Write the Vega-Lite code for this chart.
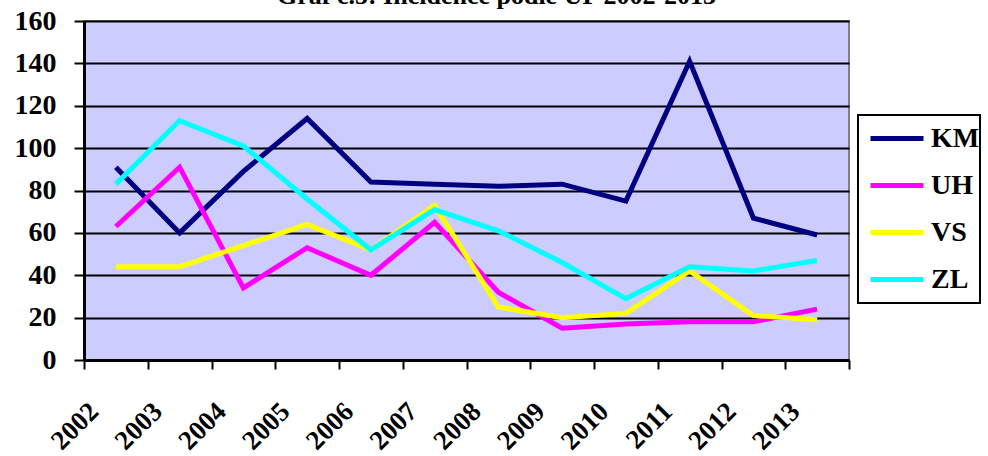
{
  "$schema": "https://vega.github.io/schema/vega-lite/v6.json",
  "autosize": {"type": "none"},
  "padding": {"left": 84, "top": 21, "right": 139, "bottom": 96},
  "width": 765,
  "height": 339,
  "background": "white",
  "title": {
    "text": "Graf č.5: Incidence podle UP 2002-2013",
    "font": "Times New Roman, Liberation Serif, serif",
    "fontSize": 26,
    "fontWeight": "bold",
    "color": "black",
    "anchor": "middle",
    "baseline": "alphabetic",
    "dx": 30,
    "offset": -23
  },
  "data": {
    "values": [
      {"rok": "2002", "okres": "KM", "hodnota": 91},
      {"rok": "2003", "okres": "KM", "hodnota": 60},
      {"rok": "2004", "okres": "KM", "hodnota": 89},
      {"rok": "2005", "okres": "KM", "hodnota": 114},
      {"rok": "2006", "okres": "KM", "hodnota": 84},
      {"rok": "2007", "okres": "KM", "hodnota": 83},
      {"rok": "2008", "okres": "KM", "hodnota": 82},
      {"rok": "2009", "okres": "KM", "hodnota": 83},
      {"rok": "2010", "okres": "KM", "hodnota": 75},
      {"rok": "2011", "okres": "KM", "hodnota": 141},
      {"rok": "2012", "okres": "KM", "hodnota": 67},
      {"rok": "2013", "okres": "KM", "hodnota": 59},
      {"rok": "2002", "okres": "UH", "hodnota": 63},
      {"rok": "2003", "okres": "UH", "hodnota": 91},
      {"rok": "2004", "okres": "UH", "hodnota": 34},
      {"rok": "2005", "okres": "UH", "hodnota": 53},
      {"rok": "2006", "okres": "UH", "hodnota": 40},
      {"rok": "2007", "okres": "UH", "hodnota": 65},
      {"rok": "2008", "okres": "UH", "hodnota": 32},
      {"rok": "2009", "okres": "UH", "hodnota": 15},
      {"rok": "2010", "okres": "UH", "hodnota": 17},
      {"rok": "2011", "okres": "UH", "hodnota": 18},
      {"rok": "2012", "okres": "UH", "hodnota": 18},
      {"rok": "2013", "okres": "UH", "hodnota": 24},
      {"rok": "2002", "okres": "VS", "hodnota": 44},
      {"rok": "2003", "okres": "VS", "hodnota": 44},
      {"rok": "2004", "okres": "VS", "hodnota": 54},
      {"rok": "2005", "okres": "VS", "hodnota": 64},
      {"rok": "2006", "okres": "VS", "hodnota": 52},
      {"rok": "2007", "okres": "VS", "hodnota": 73},
      {"rok": "2008", "okres": "VS", "hodnota": 25},
      {"rok": "2009", "okres": "VS", "hodnota": 20},
      {"rok": "2010", "okres": "VS", "hodnota": 22},
      {"rok": "2011", "okres": "VS", "hodnota": 42},
      {"rok": "2012", "okres": "VS", "hodnota": 21},
      {"rok": "2013", "okres": "VS", "hodnota": 19},
      {"rok": "2002", "okres": "ZL", "hodnota": 83},
      {"rok": "2003", "okres": "ZL", "hodnota": 113},
      {"rok": "2004", "okres": "ZL", "hodnota": 101},
      {"rok": "2005", "okres": "ZL", "hodnota": 76},
      {"rok": "2006", "okres": "ZL", "hodnota": 52},
      {"rok": "2007", "okres": "ZL", "hodnota": 71},
      {"rok": "2008", "okres": "ZL", "hodnota": 61},
      {"rok": "2009", "okres": "ZL", "hodnota": 46},
      {"rok": "2010", "okres": "ZL", "hodnota": 29},
      {"rok": "2011", "okres": "ZL", "hodnota": 44},
      {"rok": "2012", "okres": "ZL", "hodnota": 42},
      {"rok": "2013", "okres": "ZL", "hodnota": 47}
    ]
  },
  "mark": {"type": "line", "strokeWidth": 5, "strokeJoin": "miter", "strokeCap": "butt"},
  "encoding": {
    "x": {
      "field": "rok",
      "type": "ordinal",
      "scale": {"type": "band", "paddingInner": 0, "paddingOuter": 0},
      "axis": {
        "title": null,
        "tickBand": "extent",
        "grid": false,
        "domainColor": "black",
        "domainWidth": 3,
        "tickColor": "black",
        "tickWidth": 2,
        "tickSize": 9,
        "labelAngle": -45,
        "labelAlign": "right",
        "labelBaseline": "middle",
        "labelPadding": 38,
        "labelOffset": -22,
        "labelFont": "Times New Roman, Liberation Serif, serif",
        "labelFontSize": 27,
        "labelFontWeight": "bold",
        "labelColor": "black"
      }
    },
    "y": {
      "field": "hodnota",
      "type": "quantitative",
      "scale": {"domain": [0, 160], "nice": false},
      "axis": {
        "title": null,
        "values": [0, 20, 40, 60, 80, 100, 120, 140, 160],
        "grid": true,
        "gridColor": "black",
        "gridWidth": 2,
        "gridOpacity": 1,
        "domainColor": "black",
        "domainWidth": 3,
        "tickColor": "black",
        "tickWidth": 2,
        "tickSize": 10,
        "labelPadding": 18,
        "labelFont": "Times New Roman, Liberation Serif, serif",
        "labelFontSize": 28,
        "labelFontWeight": "bold",
        "labelColor": "black"
      }
    },
    "color": {
      "field": "okres",
      "type": "nominal",
      "scale": {"domain": ["KM", "UH", "VS", "ZL"], "range": ["#000080", "#FF00FF", "#FFFF00", "#00FFFF"]},
      "legend": {
        "title": null,
        "orient": "none",
        "legendX": 774,
        "legendY": 94,
        "strokeColor": "black",
        "fillColor": "white",
        "padding": 0,
        "clipHeight": 47,
        "symbolType": "stroke",
        "symbolSize": 2809,
        "symbolStrokeWidth": 5,
        "symbolOffset": 10,
        "labelOffset": 5,
        "labelExpr": "datum.label + '\u00a0\u00a0'",
        "rowPadding": 0,
        "labelFont": "Times New Roman, Liberation Serif, serif",
        "labelFontSize": 28,
        "labelFontWeight": "bold",
        "labelColor": "black"
      }
    }
  },
  "config": {
    "view": {"fill": "#CCCCFF", "stroke": "#808080", "strokeWidth": 2},
    "legend": {"strokeWidth": 2}
  }
}
